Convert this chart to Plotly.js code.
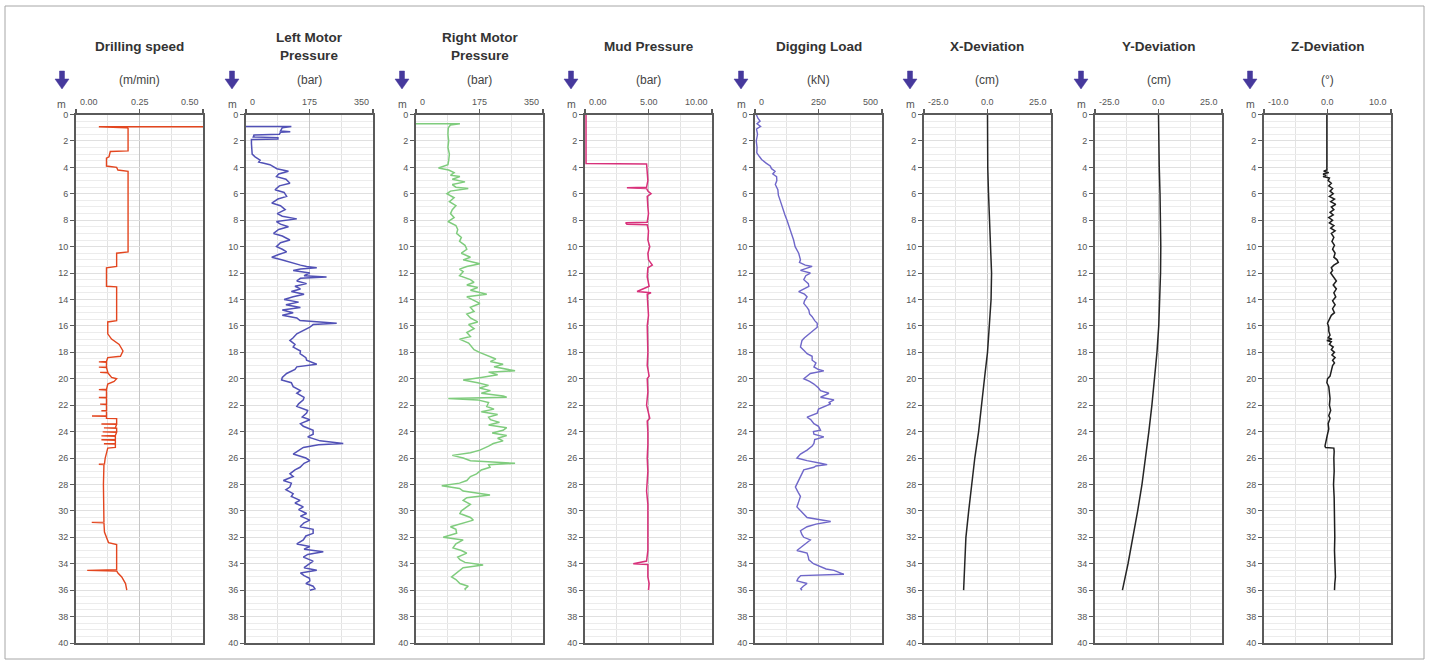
<!DOCTYPE html>
<html><head><meta charset="utf-8">
<script src="https://cdn.plot.ly/plotly-3.0.1.min.js"></script>
<style>html,body{margin:0;padding:0;background:#fff}#chart{width:1430px;height:664px}</style>
</head><body><div id="chart"></div>
<script>
// ---------------- data (depth in m) ----------------
const titles = ['Drilling speed','Left Motor<br>Pressure','Right Motor<br>Pressure','Mud Pressure','Digging Load','X-Deviation','Y-Deviation','Z-Deviation'];
const units = ['(m/min)','(bar)','(bar)','(bar)','(kN)','(cm)','(cm)','(°)'];
const xRanges = [[0,0.5],[0,350],[0,350],[0,10],[0,500],[-25,25],[-25,25],[-10,10]];
const xTickLabels = [['0.00','0.25','0.50'],['0','175','350'],['0','175','350'],['0.00','5.00','10.00'],['0','250','500'],['-25.0','0.0','25.0'],['-25.0','0.0','25.0'],['-10.0','0.0','10.0']];
const depthRange = [0,40];

const speedDepth = [0.93,0.93,1.0,1.05,2.75,2.8,3.2,3.3,3.9,4.0,4.2,4.3,10.4,10.5,11.5,11.6,13.0,13.05,15.6,15.7,16.6,17.0,17.4,17.9,18.3,18.4,18.7,18.72,18.75,19.1,19.12,19.15,19.5,19.52,19.55,19.9,20.0,20.2,20.4,20.8,20.82,20.85,21.4,21.42,21.45,21.9,21.92,21.95,22.4,22.42,22.45,22.8,22.82,22.85,23.0,23.02,23.4,23.42,23.45,23.7,23.72,23.75,24.0,24.02,24.05,24.3,24.32,24.35,24.6,24.62,24.65,24.9,24.92,24.95,25.2,25.25,26.0,26.45,26.47,26.5,28.0,30.0,30.85,30.87,30.9,31.6,32.0,32.4,32.55,34.45,34.5,34.55,34.7,35.0,35.5,36.0];
const speedVal = [0.5,0.09,0.2,0.205,0.205,0.135,0.13,0.12,0.12,0.16,0.165,0.205,0.205,0.16,0.16,0.12,0.12,0.16,0.16,0.125,0.125,0.14,0.17,0.185,0.175,0.125,0.12,0.09,0.12,0.12,0.09,0.12,0.125,0.095,0.125,0.14,0.16,0.15,0.125,0.12,0.09,0.12,0.12,0.09,0.12,0.12,0.095,0.12,0.12,0.1,0.12,0.12,0.063,0.12,0.12,0.16,0.16,0.1,0.16,0.155,0.11,0.16,0.16,0.105,0.16,0.155,0.1,0.155,0.155,0.1,0.155,0.155,0.11,0.155,0.155,0.125,0.115,0.112,0.09,0.11,0.108,0.108,0.11,0.062,0.11,0.112,0.12,0.128,0.16,0.16,0.044,0.16,0.165,0.18,0.195,0.2];

const lmpDepth = [0.9,0.9,1.0,1.25,1.3,1.35,1.5,1.55,1.7,1.75,1.85,1.9,2.2,2.6,3.0,3.2,3.45,3.6,3.8,4.1,4.3,4.5,4.7,4.9,5.2,5.4,5.7,5.9,6.2,6.4,6.7,6.9,7.2,7.5,7.7,7.9,8.1,8.3,8.5,8.7,9.0,9.2,9.5,9.7,10.0,10.2,10.4,10.6,10.8,11.0,11.2,11.4,11.5,11.6,11.7,11.8,12.0,12.2,12.3,12.4,12.6,12.8,13.0,13.2,13.4,13.6,13.8,14.0,14.2,14.4,14.6,14.8,15.0,15.2,15.4,15.6,15.8,15.9,16.1,16.3,16.6,16.9,17.1,17.4,17.6,17.9,18.1,18.4,18.6,18.9,19.1,19.3,19.6,19.9,20.1,20.3,20.6,20.9,21.1,21.4,21.6,21.9,22.1,22.4,22.6,22.9,23.1,23.4,23.6,23.9,24.2,24.4,24.7,24.9,25.0,25.2,25.5,25.7,26.0,26.2,26.4,26.7,26.9,27.2,27.4,27.7,27.9,28.2,28.4,28.7,28.9,29.2,29.4,29.7,29.9,30.2,30.4,30.7,30.9,31.2,31.4,31.7,31.9,32.2,32.5,32.7,32.9,33.1,33.3,33.5,33.8,34.0,34.3,34.5,34.7,34.9,35.1,35.3,35.5,35.7,35.9,36.0];
const lmpVal = [0,125,100,95,122,95,92,22,20,88,88,15,15,16,17,25,39,35,66,85,117,90,84,110,121,92,80,105,112,88,71,95,108,86,100,140,84,95,117,90,76,100,121,95,84,100,112,90,71,98,121,150,167,195,150,130,176,160,222,150,140,167,135,150,125,160,130,105,145,110,150,100,130,100,140,149,250,185,176,160,140,130,121,135,130,150,149,165,167,195,140,135,112,100,98,125,130,150,140,160,158,145,140,170,167,155,176,150,158,185,185,170,204,268,200,158,140,130,165,176,160,149,135,121,130,103,125,121,110,130,125,149,135,158,145,167,150,176,160,149,185,185,165,158,140,176,160,213,170,158,185,176,160,195,150,160,175,176,165,185,190,176];

const rmpDepth = [0.7,0.7,0.8,1.0,1.5,2.0,2.5,3.0,3.5,3.8,4.05,4.2,4.4,4.6,4.7,4.9,5.1,5.3,5.5,5.6,5.8,6.0,6.3,6.6,6.9,7.2,7.5,7.8,8.1,8.4,8.7,9.0,9.3,9.6,9.9,10.2,10.5,10.8,11.0,11.3,11.5,11.7,11.9,12.2,12.5,12.7,12.9,13.1,13.3,13.6,13.8,14.1,14.3,14.6,14.9,15.1,15.4,15.7,15.9,16.2,16.5,16.8,17.0,17.3,17.5,17.8,18.0,18.3,18.5,18.7,18.9,19.1,19.4,19.5,19.7,19.9,20.1,20.3,20.5,20.7,20.9,21.1,21.3,21.4,21.5,21.6,21.8,22.1,22.3,22.5,22.7,22.9,23.1,23.3,23.5,23.7,23.9,24.1,24.3,24.5,24.7,24.9,25.1,25.4,25.6,25.8,26.0,26.2,26.4,26.5,26.7,26.9,27.2,27.4,27.7,27.9,28.1,28.3,28.5,28.8,29.0,29.2,29.5,29.7,30.0,30.2,30.5,30.7,30.9,31.2,31.4,31.7,32.0,32.2,32.5,32.8,33.0,33.2,33.5,33.7,33.9,34.1,34.3,34.5,34.8,35.0,35.2,35.5,35.7,35.9,36.0];
const rmpVal = [0,121,95,89,88,90,88,92,90,88,62,90,105,95,121,100,135,100,110,144,95,85,105,92,110,100,95,105,88,110,115,112,125,120,135,140,125,150,130,176,140,120,130,120,150,160,140,170,150,195,140,160,176,150,160,140,150,170,145,160,140,150,120,145,150,160,175,200,220,205,240,215,273,200,225,180,130,170,200,175,205,180,240,250,89,170,200,195,215,180,225,200,205,230,200,250,240,210,250,225,240,213,200,176,150,100,130,150,273,200,204,180,167,150,140,120,71,120,130,204,140,130,150,140,125,121,150,158,130,95,110,112,75,130,110,102,125,140,115,121,135,185,130,121,105,98,110,121,144,135,137];

const mudDepth = [0,3.7,3.75,4.5,5.0,5.5,5.55,5.6,5.8,6.0,6.2,7.0,7.5,8.15,8.2,8.3,8.35,8.8,9.5,10.0,10.5,11.0,11.4,11.6,12.3,13.0,13.4,13.5,13.6,14.5,15.2,16.0,17.0,18.0,19.0,19.8,20.0,21.0,22.0,23.0,23.2,24.0,25.0,26.0,27.0,28.5,29.5,30.0,31.0,32.0,33.0,33.8,34.0,34.05,35.0,35.5,36.0];
const mudVal = [0.08,0.08,4.85,4.9,4.95,4.85,3.3,4.85,4.95,5.2,4.9,4.95,5.0,4.9,3.2,3.3,4.9,5.0,4.95,5.1,4.95,5.0,5.3,4.95,4.9,5.05,4.1,5.2,4.9,4.95,5.0,4.9,4.95,4.95,4.9,5.05,4.9,4.95,4.85,5.1,4.9,4.95,4.95,4.9,4.95,4.85,4.95,4.95,4.9,4.9,4.95,4.85,3.8,4.95,4.95,5.05,5.0];

const loadDepth = [0,0.3,0.5,0.7,0.9,1.1,1.5,2.0,2.5,2.9,3.2,3.4,3.7,3.9,4.1,4.3,4.5,4.7,5.0,5.3,5.7,6.1,6.5,6.9,7.2,7.6,8.0,8.3,8.7,9.1,9.5,10.0,10.5,11.0,11.2,11.4,11.5,11.7,11.8,12.0,12.2,12.5,12.8,13.0,13.2,13.4,13.6,13.8,14.1,14.3,14.6,14.8,15.1,15.3,15.6,15.8,16.1,16.4,16.6,16.9,17.1,17.4,17.6,17.9,18.1,18.3,18.6,18.8,19.1,19.3,19.4,19.6,19.8,20.0,20.2,20.4,20.7,20.9,21.1,21.3,21.4,21.6,21.8,21.9,22.1,22.3,22.6,22.9,23.1,23.4,23.6,23.9,24.0,24.2,24.4,24.6,24.9,25.1,25.4,25.7,26.0,26.2,26.4,26.5,26.6,26.7,26.9,27.2,27.4,27.8,28.2,28.6,28.9,29.3,29.7,30.1,30.5,30.8,31.0,31.2,31.5,31.8,32.0,32.2,32.5,32.7,33.0,33.2,33.5,33.7,34.0,34.2,34.4,34.5,34.7,34.8,34.9,35.1,35.3,35.5,35.7,35.9,36.0];
const loadVal = [5,12,20,8,22,6,10,5,8,7,18,26,45,60,65,79,70,85,86,80,90,92,99,105,112,118,126,132,139,145,152,158,172,179,175,198,225,190,179,218,200,192,210,212,190,172,195,205,195,192,205,212,215,225,235,245,245,225,212,195,185,180,179,195,205,225,225,240,232,250,271,218,205,192,215,232,250,258,291,270,258,311,290,298,271,250,245,205,220,232,250,258,230,232,271,235,232,225,205,179,165,205,258,284,240,232,192,185,179,170,159,170,179,172,165,185,205,298,240,205,179,185,192,218,200,185,165,205,210,212,230,258,280,311,340,350,180,170,165,205,190,180,185];

const xdevDepth = [0,2,4,6,8,10,12,14,16,18,20,22,24,26,28,30,32,34,36];
const xdevVal = [0,0,0.1,0.4,0.8,1.2,1.6,1.4,0.8,0,-1.2,-2.3,-3.5,-5.0,-6.3,-7.4,-8.5,-9.1,-9.4];

const ydevDepth = [0,2,4,6,8,10,12,14,16,18,20,22,24,26,28,30,32,34,36];
const ydevVal = [0,0.1,0.3,0.6,0.8,0.9,0.8,0.5,0.1,-0.6,-1.5,-2.6,-3.8,-5.1,-6.5,-8.2,-10.0,-12.0,-14.2];

const zdevDepth = [0,4.2,4.3,4.4,4.5,4.6,4.7,4.8,5.0,5.2,5.4,5.6,5.8,6.0,6.2,6.4,6.6,6.8,7.0,7.2,7.4,7.6,7.8,8.0,8.2,8.4,8.6,8.8,9.0,9.3,9.6,9.9,10.2,10.5,10.8,11.0,11.2,11.4,11.6,11.8,12.0,12.3,12.6,12.9,13.2,13.5,13.8,14.1,14.4,14.7,15.0,15.2,15.5,15.8,16.1,16.4,16.7,16.9,17.0,17.1,17.2,17.4,17.6,17.8,18.0,18.2,18.4,18.6,18.8,19.0,19.4,19.8,20.0,20.3,20.6,21.0,21.5,22.0,22.4,22.8,23.0,23.4,23.8,24.2,24.6,24.9,25.1,25.2,25.25,25.5,26.0,27.0,28.0,29.0,30.0,31.0,32.0,33.0,34.0,35.0,35.5,36.0];
const zdevVal = [-0.1,-0.1,-0.6,0.2,-0.7,-0.2,-0.7,0.3,0.1,0.6,0.2,0.8,0.4,0.9,0.3,1.1,0.5,1.3,0.6,1.0,0.4,0.9,0.2,0.8,0.3,1.0,0.5,1.2,0.6,1.0,0.7,1.1,0.8,1.2,1.0,1.5,1.7,1.0,0.6,0.8,0.5,1.0,1.4,0.9,1.4,1.0,1.3,0.8,1.2,0.8,1.1,0.6,0.3,0.0,0.2,0.2,0.4,0.1,0.7,-0.1,0.6,0.3,0.9,0.6,1.1,0.7,1.2,0.8,1.1,0.8,0.6,0.4,0.0,-0.1,0.2,0.3,0.4,0.3,0.5,0.2,0.4,0.1,0.2,0.0,-0.2,-0.3,-0.4,-0.3,1.0,1.05,1.0,1.05,0.95,1.05,1.1,1.05,1.15,1.1,1.15,1.25,1.15,1.1];

const seriesX = [speedVal,lmpVal,rmpVal,mudVal,loadVal,xdevVal,ydevVal,zdevVal];
const seriesDepth = [speedDepth,lmpDepth,rmpDepth,mudDepth,loadDepth,xdevDepth,ydevDepth,zdevDepth];

// ---------------- styling / layout ----------------
const colors = ['#e3461f','#5151b6','#7fcc7d','#d8307a','#6f67c9','#262626','#262626','#1e1e1e'];
const widths = [1.4,1.5,1.5,1.5,1.4,1.5,1.5,1.5];
const W = 1430, H = 664;
const lefts = [76,246,416,585,755,924,1095,1264];
const pw = 127;
const plotTopPx = 114.5, plotBottomPx = 643;
const FONT = 'Liberation Sans, Arial, sans-serif';
const px = v => v / W;
const py = v => 1 - v / H;

const traces = [], annotations = [], shapes = [];
const layout = {
  width: W, height: H, margin: {l:0, r:0, t:0, b:0},
  paper_bgcolor: '#ffffff', plot_bgcolor: '#ffffff', showlegend: false,
  font: {family: FONT, color: '#444'}
};

for (let i = 0; i < 8; i++) {
  const s = i === 0 ? '' : String(i + 1);
  const [lo, hi] = xRanges[i];
  traces.push({
    type: 'scatter', mode: 'lines', x: seriesX[i], y: seriesDepth[i],
    xaxis: 'x' + s, yaxis: 'y' + s,
    line: {color: colors[i], width: widths[i]}, hoverinfo: 'skip'
  });
  layout['xaxis' + s] = {
    domain: [px(lefts[i]), px(lefts[i] + pw)], range: [lo, hi], side: 'top', anchor: 'y' + s,
    tickmode: 'linear', tick0: lo, dtick: (hi - lo) / 2,
    ticks: 'outside', ticklen: 4, tickwidth: 1.5, tickcolor: '#5a5a5a', showticklabels: false,
    showgrid: true, gridcolor: '#c6c6c6', gridwidth: 1,
    minor: {tick0: lo, dtick: (hi - lo) / 4, showgrid: true, gridcolor: '#e3e3e3', ticks: ''},
    showline: true, linecolor: '#5a5a5a', linewidth: 2, mirror: true, zeroline: false, fixedrange: true
  };
  layout['yaxis' + s] = {
    domain: [py(plotBottomPx), py(plotTopPx)], range: [depthRange[1], depthRange[0]], anchor: 'x' + s,
    tickmode: 'linear', tick0: 0, dtick: 2,
    ticks: 'outside', ticklen: 4, tickwidth: 1, tickcolor: '#5a5a5a',
    tickfont: {family: FONT, size: 9, color: '#555'},
    showgrid: true, gridcolor: '#e0e0e0', gridwidth: 1,
    minor: {dtick: 0.5, showgrid: true, gridcolor: '#ececec', ticks: ''},
    showline: true, linecolor: '#5a5a5a', linewidth: 2, mirror: true, zeroline: false, fixedrange: true
  };
  const cx = px(lefts[i] + pw / 2);
  annotations.push({xref: 'paper', yref: 'paper', x: cx, y: py(47), xanchor: 'center', yanchor: 'middle',
    text: '<b>' + titles[i] + '</b>', showarrow: false, font: {family: FONT, size: 13.5, color: '#333'}});
  annotations.push({xref: 'paper', yref: 'paper', x: cx, y: py(80), xanchor: 'center', yanchor: 'middle',
    text: units[i], showarrow: false, font: {family: FONT, size: 12, color: '#444'}});
  const tv = [lo, (lo + hi) / 2, hi], anc = ['left', 'center', 'right'], sh = [2, 0, -2];
  for (let k = 0; k < 3; k++) {
    annotations.push({xref: 'x' + s, yref: 'paper', x: tv[k], y: py(102), xanchor: anc[k], yanchor: 'middle',
      xshift: sh[k], text: xTickLabels[i][k], showarrow: false, font: {family: FONT, size: 9, color: '#555'}});
  }
  const ax = lefts[i] - 14;
  annotations.push({xref: 'paper', yref: 'paper', x: px(ax), y: py(104), xanchor: 'center', yanchor: 'middle',
    text: 'm', showarrow: false, font: {family: FONT, size: 10.5, color: '#555'}});
  // blue down-arrow
  const pts = [[ax - 2.5, 71], [ax + 2.5, 71], [ax + 2.5, 79], [ax + 7, 79], [ax, 89], [ax - 7, 79], [ax - 2.5, 79]];
  shapes.push({type: 'path', xref: 'paper', yref: 'paper',
    path: 'M' + pts.map(p => px(p[0]) + ',' + py(p[1])).join(' L') + ' Z',
    fillcolor: '#46399c', line: {color: '#46399c', width: 0.5}});
}
shapes.push({type: 'rect', xref: 'paper', yref: 'paper', x0: px(5), x1: px(1424), y0: py(659), y1: py(6),
  line: {color: '#a6a6a6', width: 1}, fillcolor: 'rgba(0,0,0,0)', layer: 'below'});
layout.annotations = annotations;
layout.shapes = shapes;

Plotly.newPlot('chart', traces, layout, {staticPlot: true, displayModeBar: false});
</script>
</body></html>
